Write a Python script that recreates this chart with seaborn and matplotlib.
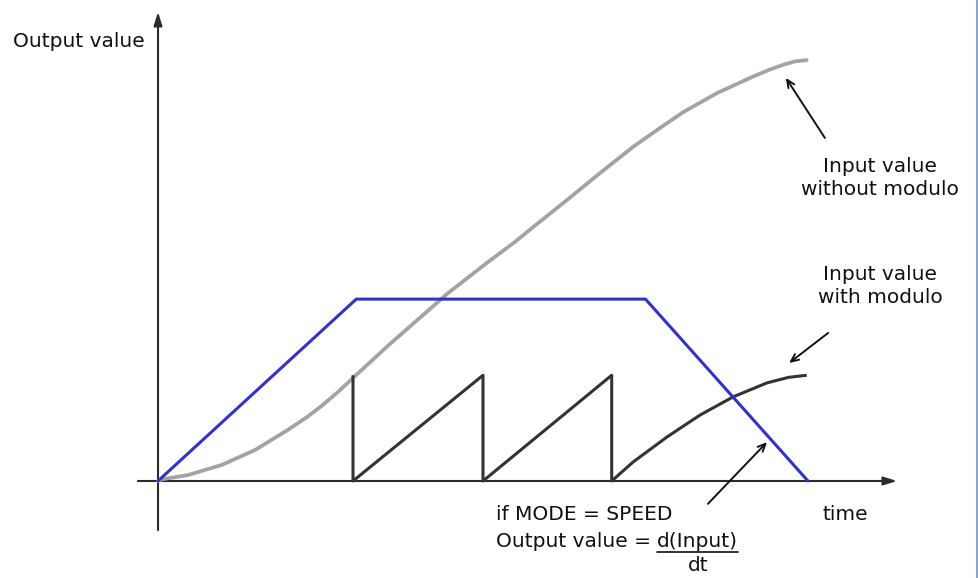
import matplotlib
matplotlib.use("Agg")
import matplotlib.pyplot as plt
from matplotlib.lines import Line2D
import seaborn as sns
import pandas as pd

# Speed profile (trapezoid)
speed_time = [0.0, 3.05, 7.5, 10.0]
speed_value = [0.0, 4.3, 4.3, 0.0]

# Position without modulo
pos_time = [0.0, 0.06, 0.46, 0.98, 1.49, 2.00, 2.30, 2.52, 2.78, 3.03, 3.30,
            3.54, 4.06, 4.46, 5.08, 5.49, 5.77, 6.29, 6.80, 7.31, 7.68, 8.08,
            8.60, 9.11, 9.40, 9.62, 9.80, 9.98]
pos_value = [0.0, 0.04, 0.14, 0.38, 0.73, 1.21, 1.52, 1.78, 2.12, 2.48, 2.86,
             3.20, 3.90, 4.44, 5.18, 5.65, 6.00, 6.64, 7.28, 7.90, 8.30, 8.72,
             9.17, 9.53, 9.72, 9.84, 9.92, 9.95]

# Position with modulo (wraps at 2.5)
mod_time = [3.0, 3.0, 5.0, 5.0, 6.98, 6.98, 7.31, 7.83, 8.34, 8.85, 9.37, 9.70, 9.98]
mod_value = [2.5, 0.0, 2.5, 0.0, 2.5, 0.0, 0.45, 1.04, 1.56, 1.99, 2.32, 2.45, 2.5]

sns.set_style("white")
plt.rcParams["font.family"] = ["DejaVu Sans"]

fig = plt.figure(figsize=(9.79, 5.78), dpi=100)
ax = fig.add_axes([0, 0, 1, 1])
ax.set_xlim(-2.431, 12.631)
ax.set_ylim(-2.293, 11.371)
ax.axis("off")

speed_df = pd.DataFrame({"t": speed_time, "v": speed_value})
pos_df = pd.DataFrame({"t": pos_time, "v": pos_value})
mod_df = pd.DataFrame({"t": mod_time, "v": mod_value})

sns.lineplot(data=pos_df, x="t", y="v", sort=False, estimator=None,
             color="#a3a3a3", lw=2.7, ax=ax, zorder=3,
             solid_joinstyle="round", solid_capstyle="round")
sns.lineplot(data=mod_df, x="t", y="v", sort=False, estimator=None,
             color="#333333", lw=2.2, ax=ax, zorder=4,
             solid_joinstyle="round", solid_capstyle="butt")
sns.lineplot(data=speed_df, x="t", y="v", sort=False, estimator=None,
             color="#3232c8", lw=2.2, ax=ax, zorder=5)

axis_arrow = dict(arrowstyle="-|>,head_length=0.8,head_width=0.25",
                  color="#2b2b2b", lw=1.5, shrinkA=0, shrinkB=0)
# Coordinate axes with arrowheads
ax.annotate("", xy=(0, 11.09), xytext=(0, -1.16), arrowprops=axis_arrow, zorder=2)
ax.annotate("", xy=(11.37, 0), xytext=(-0.31, 0), arrowprops=axis_arrow, zorder=2)

pointer = dict(arrowstyle="->,head_length=0.55,head_width=0.25",
               color="#111111", lw=1.4, shrinkA=0, shrinkB=0)
ax.annotate("", xy=(9.66, 9.53), xytext=(10.26, 8.11), arrowprops=pointer)
ax.annotate("", xy=(9.71, 2.79), xytext=(10.31, 3.50), arrowprops=pointer)
ax.annotate("", xy=(9.37, 0.92), xytext=(8.46, -0.54), arrowprops=pointer)

fs = 14.5
txt = "#111111"
ax.text(-2.23, 10.38, "Output value", fontsize=fs, color=txt, ha="left", va="center")
ax.text(11.11, 7.16, "Input value\nwithout modulo", fontsize=fs, color=txt,
        ha="center", va="center", linespacing=1.25)
ax.text(11.11, 4.61, "Input value\nwith modulo", fontsize=fs, color=txt,
        ha="center", va="center", linespacing=1.25)
ax.text(10.22, -0.80, "time", fontsize=fs, color=txt, ha="left", va="center")
ax.text(5.2, -0.80, "if MODE = SPEED", fontsize=fs, color=txt, ha="left", va="center")
lead = ax.text(5.2, -1.42, "Output value = ", fontsize=fs, color=txt,
               ha="left", va="center")

# Place the underlined derivative numerator right after the lead text
fig.canvas.draw()
renderer = fig.canvas.get_renderer()
bb = lead.get_window_extent(renderer).transformed(ax.transData.inverted())
num = ax.text(bb.x1, -1.42, "d(Input)", fontsize=fs, color=txt, ha="left", va="center")
fig.canvas.draw()
nb = num.get_window_extent(renderer).transformed(ax.transData.inverted())
ax.plot([nb.x0, nb.x1], [-1.68, -1.68], color=txt, lw=1.2)
ax.text((nb.x0 + nb.x1) / 2, -1.99, "dt", fontsize=fs, color=txt, ha="center", va="center")

# Thin frame line on the right edge
fig.add_artist(Line2D([977.5 / 979] * 2, [0, 1], color="#8ea6cc", lw=1.5,
                      transform=fig.transFigure))

fig.savefig("out.png", dpi=100)
